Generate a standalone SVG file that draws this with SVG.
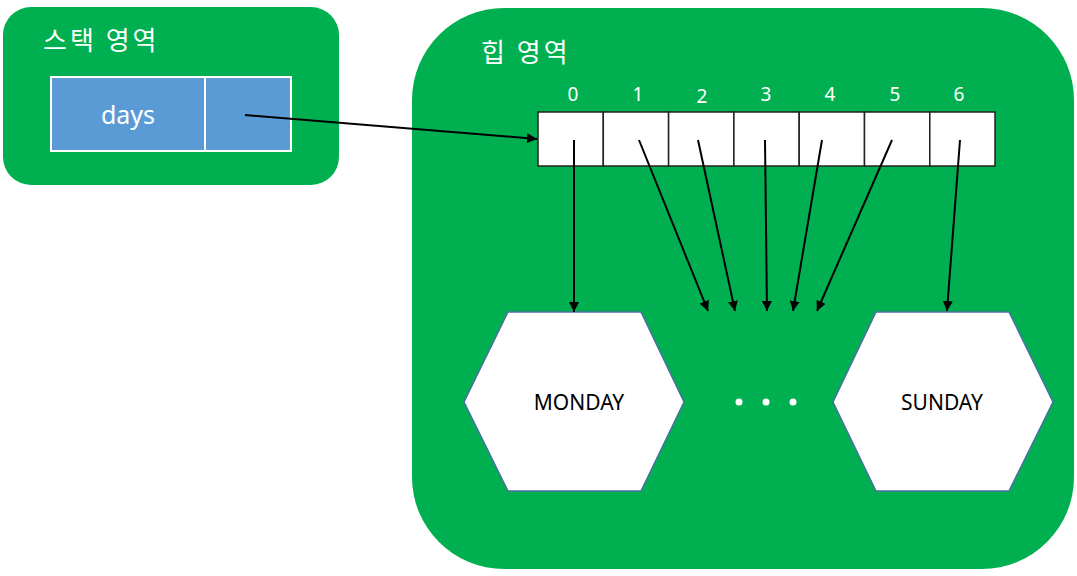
<svg xmlns="http://www.w3.org/2000/svg" width="1077" height="576" viewBox="0 0 1077 576">
<style>
.area{fill:#00B050;}
.title{font-family:"Noto Sans CJK KR","Noto Sans",sans-serif;font-size:26px;fill:#fff;letter-spacing:3px;}
.idx{font-family:"Noto Sans","Open Sans",sans-serif;font-size:19px;fill:#fff;text-anchor:middle;}
.cell{fill:#fff;stroke:#222;stroke-width:1.5;}
.scell{fill:#5B9BD5;stroke:#fff;stroke-width:2;}
.hex{fill:#fff;stroke:#4A6FA5;stroke-width:1.5;}
.lbl{font-family:"Noto Sans","Open Sans",sans-serif;font-size:21px;fill:#000;text-anchor:middle;}
.con{stroke:#000;stroke-width:2;fill:none;marker-end:url(#ah);}
</style>
<defs>
<marker id="ah" viewBox="0 0 10 10" refX="10" refY="5" markerWidth="5" markerHeight="5" markerUnits="strokeWidth" orient="auto">
<path d="M0,0 L10,5 L0,10 z" fill="#000"/>
</marker>
</defs>
<rect width="1077" height="576" fill="#fff"/>
<g id="stack">
<rect class="area" x="3" y="7" width="336" height="178" rx="28"/>
<text class="title" x="43" y="50">스택 영역</text>
<rect class="scell" x="51" y="77" width="154" height="74"/>
<rect class="scell" x="205" y="77" width="86" height="74"/>
<text x="128" y="124" font-family="Noto Sans, Open Sans, sans-serif" font-size="25" fill="#fff" text-anchor="middle">days</text>
</g>
<g id="heap">
<rect class="area" x="412" y="8" width="662" height="561" rx="92"/>
<text class="title" x="481" y="62">힙 영역</text>
</g>
<g id="array">
<rect class="cell" x="538" y="112" width="65.3" height="54"/>
<rect class="cell" x="603.3" y="112" width="65.3" height="54"/>
<rect class="cell" x="668.6" y="112" width="65.3" height="54"/>
<rect class="cell" x="733.9" y="112" width="65.3" height="54"/>
<rect class="cell" x="799.2" y="112" width="65.3" height="54"/>
<rect class="cell" x="864.5" y="112" width="65.3" height="54"/>
<rect class="cell" x="929.8" y="112" width="65.2" height="54"/>
<text class="idx" x="573" y="101">0</text>
<text class="idx" x="638" y="101">1</text>
<text class="idx" x="702" y="103">2</text>
<text class="idx" x="766" y="101">3</text>
<text class="idx" x="830" y="101">4</text>
<text class="idx" x="895" y="101">5</text>
<text class="idx" x="959" y="101">6</text>
</g>
<g id="monday">
<polygon class="hex" points="508,312 641,312 684,402 641,491 508,491 464,402"/>
<text class="lbl" x="579" y="410">MONDAY</text>
</g>
<g id="ellipsis" fill="#fff">
<circle cx="739" cy="402" r="3.5"/>
<circle cx="766" cy="402" r="3.5"/>
<circle cx="793" cy="402" r="3.5"/>
</g>
<g id="sunday">
<polygon class="hex" points="876,312 1009,312 1053,402 1009,491 876,491 833,402"/>
<text class="lbl" x="942" y="410">SUNDAY</text>
</g>
<g id="connectors">
<line class="con" x1="245" y1="115" x2="537" y2="139"/>
<line class="con" x1="574" y1="140" x2="574" y2="312"/>
<line class="con" x1="639" y1="140" x2="708" y2="311"/>
<line class="con" x1="698" y1="140" x2="735" y2="311"/>
<line class="con" x1="765" y1="140" x2="767" y2="311"/>
<line class="con" x1="822" y1="140" x2="793" y2="311"/>
<line class="con" x1="892" y1="140" x2="817" y2="311"/>
<line class="con" x1="960" y1="140" x2="947" y2="311"/>
</g>
</svg>
